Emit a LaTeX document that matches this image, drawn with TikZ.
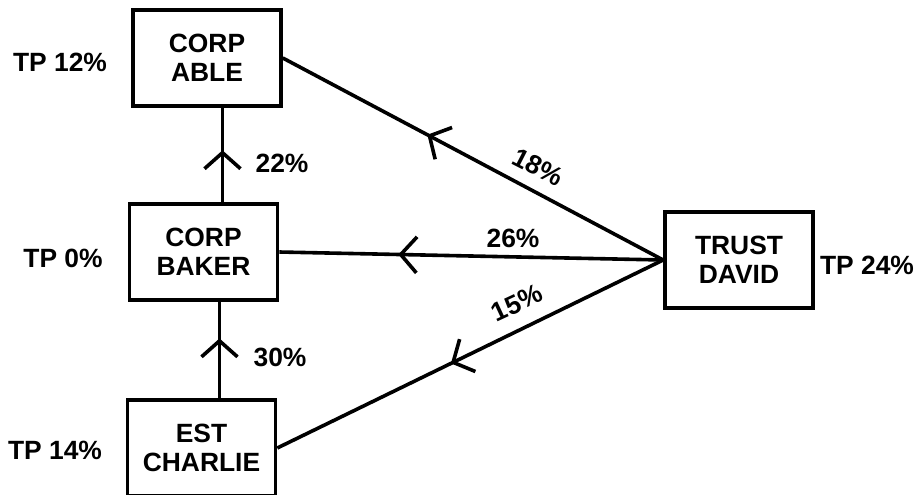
\documentclass[tikz,border=0pt]{standalone}
\usepackage{fontspec}
\setmainfont{Liberation Sans}
\usetikzlibrary{arrows.meta,decorations.markings}

\tikzset{
  entity/.style={draw,line width=1.8pt,minimum width=74pt,minimum height=48pt,
    align=center,inner sep=0pt,font=\fontsize{13.2}{14.5}\selectfont\bfseries},
  tplabel/.style={font=\fontsize{13.2}{14.5}\selectfont\bfseries,inner sep=0pt},
  flow/.style={line width=1.8pt,postaction={decorate},
    decoration={markings,mark=at position #1 with {\arrow{Straight Barb[length=8pt,width=18pt,line width=1.8pt]}}}}
}

\begin{document}
\begin{tikzpicture}[x=0.5pt,y=-0.5pt]
    \useasboundingbox (0,0) rectangle (917,494);
    \clip (0,0) rectangle (917,494);
    % entities
    \node[entity] (able) at (207,58) {CORP\\ABLE};
    \node[entity] (baker) at (203.5,252) {CORP\\BAKER};
    \node[entity] (charlie) at (201.5,448) {EST\\CHARLIE};
    \node[entity] (david) at (739,260) {TRUST\\DAVID};
    % tax percentages
    \node[tplabel] (tpable) at (60,62) {TP 12\%};
    \node[tplabel] (tpbaker) at (63,258) {TP 0\%};
    \node[tplabel] (tpcharlie) at (55,450) {TP 14\%};
    \node[tplabel] (tpdavid) at (867,265) {TP 24\%};
    % ownership links
    \draw[flow=0.55] ([xshift=9.5pt]baker.north) -- ([xshift=9.5pt]baker.north |- able.south);
    \draw[flow=0.62] ([xshift=9pt]charlie.north) -- ([xshift=9pt]charlie.north |- baker.south);
    \draw[flow=0.62] (david.west) -- (able.east);
    \draw[flow=0.69] (david.west) -- (baker.east);
    \draw[flow=0.55] (david.west) -- (charlie.east);
    % link shares
    \node[tplabel] (s22) at (282,163) {22\%};
    \node[tplabel] (s30) at (280,357) {30\%};
    \node[tplabel,rotate=-27] (s18) at (538,167) {18\%};
    \node[tplabel] (s26) at (513,238) {26\%};
    \node[tplabel,rotate=25] (s15) at (517,303) {15\%};
\end{tikzpicture}
\end{document}
